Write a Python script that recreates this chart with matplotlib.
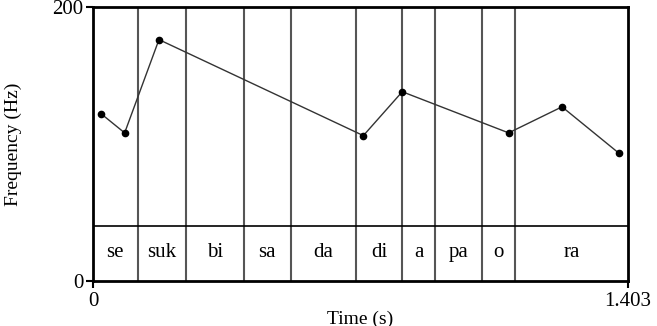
import matplotlib
matplotlib.use("Agg")
import matplotlib.pyplot as plt

# Data
syllables = ["se", "suk", "bi", "sa", "da", "di", "a", "pa", "o", "ra"]
boundaries = [0.0, 0.117, 0.243, 0.396, 0.518, 0.691, 0.810, 0.898, 1.021, 1.107, 1.403]
pitch_times = [0.021, 0.083, 0.173, 0.709, 0.811, 1.090, 1.230, 1.380]
pitch_hz = [122, 108, 176, 106, 138, 108, 127, 93]
tier_hz = 40
x_ticks = [0, 1.403]
x_ticklabels = ["0", "1.403"]
y_ticks = [0, 200]
y_ticklabels = ["0", "200"]

plt.rcParams['font.family'] = ['Liberation Serif', 'DejaVu Serif']

fig = plt.figure(figsize=(6.57, 3.26), dpi=100)
ax = fig.add_axes([93/657, 45/326, 535/657, 274.3/326])

ax.set_xlim(0, 1.403)
ax.set_ylim(0, 200)

# syllable boundaries
for b in boundaries[1:-1]:
    ax.axvline(b, color="#555555", lw=1.5, zorder=1)
ax.axhline(tier_hz, color="black", lw=1.2, zorder=1)

for i, s in enumerate(syllables):
    mid = (boundaries[i] + boundaries[i+1]) / 2
    ax.text(mid, tier_hz / 2 + 1, s, ha="center", va="center", fontsize=15)

ax.plot(pitch_times, pitch_hz, color="#333333", lw=1.0, zorder=2)
ax.plot(pitch_times, pitch_hz, "o", color="black", ms=4.5, zorder=3)

for sp in ax.spines.values():
    sp.set_linewidth(2)
    sp.set_color("black")

ax.set_xticks(x_ticks)
ax.set_xticklabels(x_ticklabels)
ax.set_yticks(y_ticks)
ax.set_yticklabels(y_ticklabels)
ax.tick_params(axis="both", direction="out", length=5, width=1.5, labelsize=15, pad=2)
ax.tick_params(axis="x", pad=3)

ax.set_xlabel("Time (s)", fontsize=14, labelpad=0)
ax.set_ylabel("Frequency (Hz)", fontsize=14, labelpad=22)

fig.savefig("out.png", dpi=100)
